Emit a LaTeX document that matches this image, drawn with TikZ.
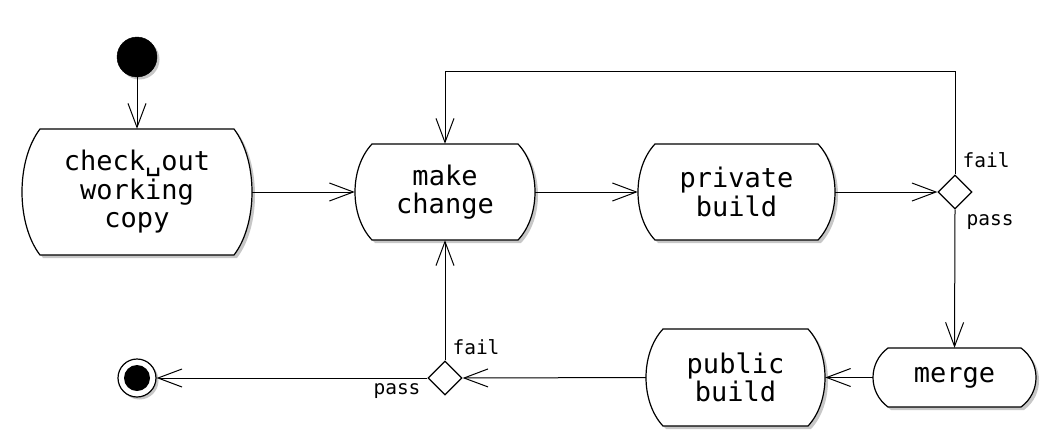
\documentclass[tikz,border=0pt]{standalone}
\usepackage{fontspec}
\setmainfont{DejaVu Sans Mono}
\usetikzlibrary{arrows.meta,shapes.geometric}
\tikzset{
  x=1pt,y=1pt,
  conn/.style={line width=1pt,-{Straight Barb[length=24pt,width=18pt,line width=1pt]}},
  plainline/.style={line width=1pt},
  outline/.style={line width=1.2pt,fill=white},
  shadowfill/.style={fill=black!22,draw=none},
  boxtext/.style={inner sep=0pt,draw=none,align=center,font=\fontsize{27}{28.5}\selectfont},
  lbl/.style={font=\fontsize{19.5}{20}\selectfont,inner sep=0pt},
  decision/.style={diamond,draw,line width=1.2pt,fill=white,minimum width=34pt,minimum height=34pt,inner sep=0pt},
}
% \actbox{name}{cx}{cy}{hw}{hh}{bulge}{text}
\newcommand\actbox[7]{%
  \fill[shadowfill,xshift=3pt,yshift=-3pt]
    ({#2-#4+#6},{-#3+#5}) -- ({#2+#4-#6},{-#3+#5})
    .. controls ({#2+#4+#6/3},{-#3+#5/2}) and ({#2+#4+#6/3},{-#3-#5/2}) .. ({#2+#4-#6},{-#3-#5})
    -- ({#2-#4+#6},{-#3-#5})
    .. controls ({#2-#4-#6/3},{-#3-#5/2}) and ({#2-#4-#6/3},{-#3+#5/2}) .. cycle;
  \draw[outline]
    ({#2-#4+#6},{-#3+#5}) -- ({#2+#4-#6},{-#3+#5})
    .. controls ({#2+#4+#6/3},{-#3+#5/2}) and ({#2+#4+#6/3},{-#3-#5/2}) .. ({#2+#4-#6},{-#3-#5})
    -- ({#2-#4+#6},{-#3-#5})
    .. controls ({#2-#4-#6/3},{-#3-#5/2}) and ({#2-#4-#6/3},{-#3+#5/2}) .. cycle;
  \node[boxtext,minimum width={2*#4},minimum height={2*#5}] (#1) at (#2,-#3) {#7};%
}
\begin{document}
\begin{tikzpicture}
\useasboundingbox (0,0) rectangle (1056,-440);
% start
\fill[black!22] (139.5,-59.5) circle (20);
\node[circle,fill=black,draw=black,minimum size=40pt,inner sep=0pt] (start) at (137,-57) {};
% actions
\actbox{checkout}{137}{192}{115}{63}{18}{check␣out\\working\\copy}
\actbox{make}{445}{192}{90}{48}{17}{make\\change}
\actbox{private}{736.5}{192}{98.5}{48}{17}{private\\build}
\actbox{merge}{954.5}{377.5}{81.5}{29.5}{15}{merge}
\actbox{public}{735.5}{377.5}{89.5}{48.5}{17}{public\\build}
% decisions
\node[decision] (d1) at (955,-192) {};
\node[decision] (d2) at (445,-378) {};
% end
\fill[black!22] (139.5,-380.5) circle (19);
\node[circle,draw=black,line width=1.2pt,fill=white,minimum size=38pt,inner sep=0pt] (end) at (137,-378) {};
\node[circle,fill=black,minimum size=26pt,inner sep=0pt] (endin) at (137,-378) {};
\coordinate (loop) at (700,-71);
% connectors
\draw[conn] (start) -- (checkout.north);
\draw[conn] (checkout.east) -- (make.west);
\draw[conn] (make.east) -- (private.west);
\draw[conn] (private.east) -- (d1.west);
\draw[plainline] (d1.north) |- (loop);
\draw[conn] (loop) -| (make.north);
\draw[conn] (d1.south) -- (merge.north);
\draw[conn] (merge.west) -- (public.east);
\draw[conn] (public.west) -- (d2.east);
\draw[conn] (d2.north) -- (make.south);
\draw[conn] (d2.west) -- (end.east);
% labels
\node[lbl] (f1) at (986,-160) {fail};
\node[lbl] (p1) at (990,-222) {pass};
\node[lbl] (f2) at (476,-347) {fail};
\node[lbl] (p2) at (397,-391) {pass};
\end{tikzpicture}
\end{document}
